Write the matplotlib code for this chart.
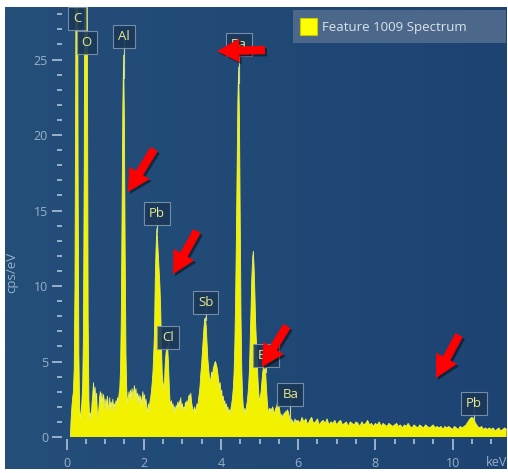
"""
EDS spectrum screenshot remake: yellow filled spectrum on a dark blue panel,
element tags on the peaks and red call-out arrows.
"""
import matplotlib.patheffects as pe
import matplotlib.pyplot as plt
import numpy as np
from matplotlib.colors import LinearSegmentedColormap
from matplotlib.patches import Rectangle
from matplotlib.ticker import MultipleLocator

plt.rcParams["font.family"] = ["Open Sans", "DejaVu Sans"]

W, H, DPI = 508, 473, 100

# ── Spectrum (cps/eV) ─────────────────────────────────────────────────────────
# fine channels: 0.10 ... 5.98 keV, one value every 0.02 keV
FINE_START, FINE_STEP = 0.10, 0.02
COUNTS_FINE = [
    0.0, 1.2, 2.0, 2.6, 3.0, 4.5, 10.0, 24.0, 45.0, 45.0,     # 0.10
    18.0, 5.5, 2.0, 1.2, 1.6, 2.4, 3.5, 7.0, 18.0, 40.0,      # 0.30
    45.0, 45.0, 28.0, 8.0, 2.5, 1.1, 1.6, 1.2, 2.2, 2.8,      # 0.50
    3.6, 2.6, 3.3, 2.2, 2.9, 1.6, 1.2, 2.0, 2.7, 3.0,         # 0.70
    2.2, 2.9, 2.0, 2.8, 2.4, 1.7, 2.5, 2.0, 2.7, 2.1,         # 0.90
    1.8, 2.6, 1.9, 2.3, 1.7, 2.5, 2.0, 2.2, 1.8, 2.4,         # 1.10
    2.1, 2.6, 2.3, 2.8, 3.2, 4.5, 8.0, 15.0, 22.0, 25.3,      # 1.30
    21.0, 12.0, 5.5, 3.2, 2.2, 2.6, 3.0, 2.4, 3.1, 2.6,       # 1.50
    3.2, 2.5, 3.0, 3.4, 2.7, 3.2, 2.4, 2.9, 2.3, 2.8,         # 1.70
    2.2, 2.7, 2.0, 2.6, 3.0, 2.3, 2.8, 2.1, 2.5, 1.9,         # 1.90
    1.6, 2.2, 1.7, 2.3, 2.6, 3.0, 3.6, 4.3, 5.5, 7.0,         # 2.10
    10.5, 12.5, 13.8, 13.0, 12.0, 11.0, 10.0, 8.5, 6.0, 4.2,  # 2.30
    3.6, 3.1, 3.8, 5.0, 5.6, 6.0, 5.9, 5.0, 3.5, 2.4,         # 2.50
    2.1, 2.4, 1.9, 2.2, 1.7, 2.0, 1.6, 2.1, 1.8, 2.3,         # 2.70
    1.9, 2.4, 2.0, 2.6, 1.9, 2.2, 1.7, 2.0, 1.8, 2.3,         # 2.90
    2.0, 2.4, 2.1, 2.6, 2.8, 2.5, 2.9, 2.3, 2.0, 1.8,         # 3.10
    1.7, 2.0, 1.6, 1.9, 2.2, 2.0, 2.5, 2.9, 3.4, 4.2,         # 3.30
    4.8, 5.6, 6.4, 7.2, 7.8, 7.9, 7.3, 6.2, 5.2, 4.6,         # 3.50
    4.0, 3.6, 3.9, 4.3, 4.0, 4.5, 4.7, 4.9, 5.0, 4.8,         # 3.70
    4.6, 4.2, 3.8, 3.3, 3.6, 2.9, 3.1, 2.5, 2.7, 2.2,         # 3.90
    2.4, 1.9, 2.2, 1.7, 2.0, 1.6, 1.8, 1.5, 1.9, 2.2,         # 4.10
    2.6, 3.2, 4.2, 6.0, 9.0, 13.0, 18.0, 22.5, 24.5, 21.0,    # 4.30
    14.0, 8.0, 4.5, 2.8, 2.0, 1.6, 1.9, 1.5, 2.0, 2.3,        # 4.50
    2.8, 3.5, 4.5, 6.5, 8.5, 10.5, 11.8, 12.3, 11.2, 9.5,     # 4.70
    7.5, 6.2, 5.0, 3.8, 2.9, 2.4, 2.6, 3.0, 3.6, 4.2,         # 4.90
    4.6, 4.9, 4.8, 4.2, 3.2, 2.4, 1.8, 1.6, 1.9, 1.7,         # 5.10
    1.9, 1.6, 2.0, 1.8, 1.5, 1.7, 1.9, 2.0, 2.2, 2.3,         # 5.30
    2.1, 1.8, 1.5, 1.3, 1.5, 1.2, 1.4, 1.6, 1.5, 1.7,         # 5.50
    1.6, 1.8, 1.7, 1.5, 1.3, 1.1, 1.2, 0.9, 1.1, 0.8,         # 5.70
    1.0, 1.2, 0.9, 1.1, 1.0,                                  # 5.90
]
# coarse channels: 6.00 ... 11.40 keV, one value every 0.05 keV
COARSE_START, COARSE_STEP = 6.00, 0.05
COUNTS_COARSE = [
    1.1, 0.9, 1.3, 1.0, 1.2, 0.8, 1.1, 1.3, 0.9, 1.0,   # 6.00
    1.2, 0.8, 1.0, 1.1, 0.9, 1.2, 0.8, 1.0, 0.9, 1.1,   # 6.50
    0.8, 1.0, 1.1, 0.8, 0.9, 1.0, 0.7, 1.0, 0.9, 0.8,   # 7.00
    1.0, 0.9, 0.7, 1.0, 0.8, 0.9, 1.1, 0.8, 0.9, 0.7,   # 7.50
    0.9, 0.8, 1.0, 0.7, 0.9, 0.8, 0.7, 0.9, 0.8, 0.7,   # 8.00
    0.8, 0.9, 0.7, 0.8, 0.6, 0.8, 0.7, 0.9, 0.7, 0.6,   # 8.50
    0.8, 0.7, 0.6, 0.8, 0.7, 0.6, 0.8, 0.7, 0.6, 0.7,   # 9.00
    0.8, 0.6, 0.7, 0.6, 0.7, 0.5, 0.7, 0.6, 0.7, 0.6,   # 9.50
    0.5, 0.7, 0.6, 0.5, 0.7, 0.6, 0.7, 0.8, 1.0, 1.2,   # 10.00
    1.3, 1.2, 0.9, 0.7, 0.6, 0.7, 0.5, 0.6, 0.5, 0.6,   # 10.50
    0.5, 0.6, 0.4, 0.5, 0.6, 0.4, 0.5, 0.6, 0.5,        # 11.00
]

# ── Element tags ──────────────────────────────────────────────────────────────
PEAK_LABELS = ["C", "O", "Al", "Ba", "Pb", "Cl", "Sb", "Ba", "Ba", "Pb"]
PEAK_ENERGY = [0.277, 0.525, 1.487, 4.466, 2.345, 2.622, 3.604, 5.156, 5.80, 10.55]
LABEL_HEIGHT = [27.7, 26.1, 26.5, 26.0, 14.8, 6.6, 8.9, 5.4, 2.8, 2.25]

# ── Red call-out arrows (keV, cps/eV) ─────────────────────────────────────────
ARROW_TIPS = [(3.90, 25.56), (1.59, 16.23), (2.76, 10.79), (5.06, 4.64), (9.57, 3.91)]
ARROW_TAILS = [(5.14, 25.63), (2.27, 19.07), (3.38, 13.64), (5.71, 7.35), (10.17, 6.75)]

LEGEND_TEXT = "Feature 1009 Spectrum"

# ── Style ─────────────────────────────────────────────────────────────────────
YELLOW = "#f2f200"
TICK_COLOR = "#9ab0c8"
TAG_TEXT = "#e9e98f"


def px_rect(x0, y0, x1, y1):
    """Pixel box (top-left origin) -> figure-fraction [l, b, w, h]."""
    return [x0 / W, 1 - y1 / H, (x1 - x0) / W, (y1 - y0) / H]


energy = np.concatenate([
    np.round(FINE_START + FINE_STEP * np.arange(len(COUNTS_FINE)), 3),
    np.round(COARSE_START + COARSE_STEP * np.arange(len(COUNTS_COARSE)), 3),
])
counts = np.array(COUNTS_FINE + COUNTS_COARSE)

fig = plt.figure(figsize=(W / DPI, H / DPI), dpi=DPI, facecolor="white")

# panel background with a faint left-to-right gradient
bg = fig.add_axes(px_rect(5, 7, 507, 469))
bg.axis("off")
bg.imshow(np.linspace(0, 1, 256)[None, :], aspect="auto", extent=[0, 1, 0, 1],
          cmap=LinearSegmentedColormap.from_list("bg", ["#244f79", "#1d4373"]))

ax = fig.add_axes(px_rect(66.5, 7, 507, 437))
ax.patch.set_alpha(0)

ax.fill_between(energy, counts, color=YELLOW, lw=0, zorder=2)
ax.plot(energy, counts, color="#eef25a", lw=0.6, zorder=2)

ax.set_xlim(0, 11.41)
ax.set_ylim(0, 28.48)
ax.xaxis.set_major_locator(MultipleLocator(2))
ax.xaxis.set_minor_locator(MultipleLocator(0.5))
ax.yaxis.set_major_locator(MultipleLocator(5))
ax.yaxis.set_minor_locator(MultipleLocator(1))

ax.spines["left"].set_position(("outward", 3))
ax.spines["bottom"].set_position(("outward", 1.5))
for side in ax.spines.values():
    side.set_visible(False)

ax.tick_params(which="both", color=TICK_COLOR, labelcolor=TICK_COLOR,
               width=1.4, labelsize=9, direction="out")
ax.tick_params(axis="y", which="major", length=7.2, pad=3)
ax.tick_params(axis="y", which="minor", length=3.6)
ax.tick_params(axis="x", which="major", length=8, pad=5)
ax.tick_params(axis="x", which="minor", length=3.6)

fig.text(12 / W, 1 - 272 / H, "cps/eV", rotation=90, ha="center", va="center",
         fontsize=9.5, color=TICK_COLOR)
fig.text(497 / W, 1 - 462 / H, "keV", ha="center", va="center",
         fontsize=9, color=TICK_COLOR)

# element tags with a thin stem down to the peak
for lab, e, y in zip(PEAK_LABELS, PEAK_ENERGY, LABEL_HEIGHT):
    top = np.interp(e, energy, counts)
    ax.plot([e, e], [min(top, y), y], color="#c9d39a", lw=0.8, zorder=3)
    ax.text(e, y, lab, ha="center", va="center", fontsize=9.5, color=TAG_TEXT,
            zorder=4, clip_on=False,
            bbox=dict(boxstyle="square,pad=0.38", fc="#1a3858", ec="#7f95ad",
                      lw=0.8, alpha=0.9))

# red arrows
for tip, tail in zip(ARROW_TIPS, ARROW_TAILS):
    ax.annotate(
        "", xy=tip, xytext=tail, annotation_clip=False, zorder=6,
        arrowprops=dict(
            arrowstyle="simple,head_length=1.6,head_width=1.7,tail_width=0.6",
            fc="#ff0000", ec="none", mutation_scale=10, shrinkA=0, shrinkB=0,
            path_effects=[pe.withSimplePatchShadow(offset=(1.5, -1.5),
                                                   shadow_rgbFace="black",
                                                   alpha=0.45)],
        ),
    )

# legend tile
fig.add_artist(Rectangle((293 / W, 1 - 43 / H), 213 / W, 33 / H,
                         transform=fig.transFigure, fc="#4b688b", ec="none"))
fig.add_artist(Rectangle((300 / W, 1 - 35 / H), 17 / W, 17 / H,
                         transform=fig.transFigure, fc="#ffff00", ec="#c8c800", lw=0.8))
fig.text(322 / W, 1 - 27 / H, LEGEND_TEXT, ha="left", va="center",
         fontsize=9.5, color="#dde3ea")

fig.savefig("out.png", dpi=DPI, facecolor="white")
